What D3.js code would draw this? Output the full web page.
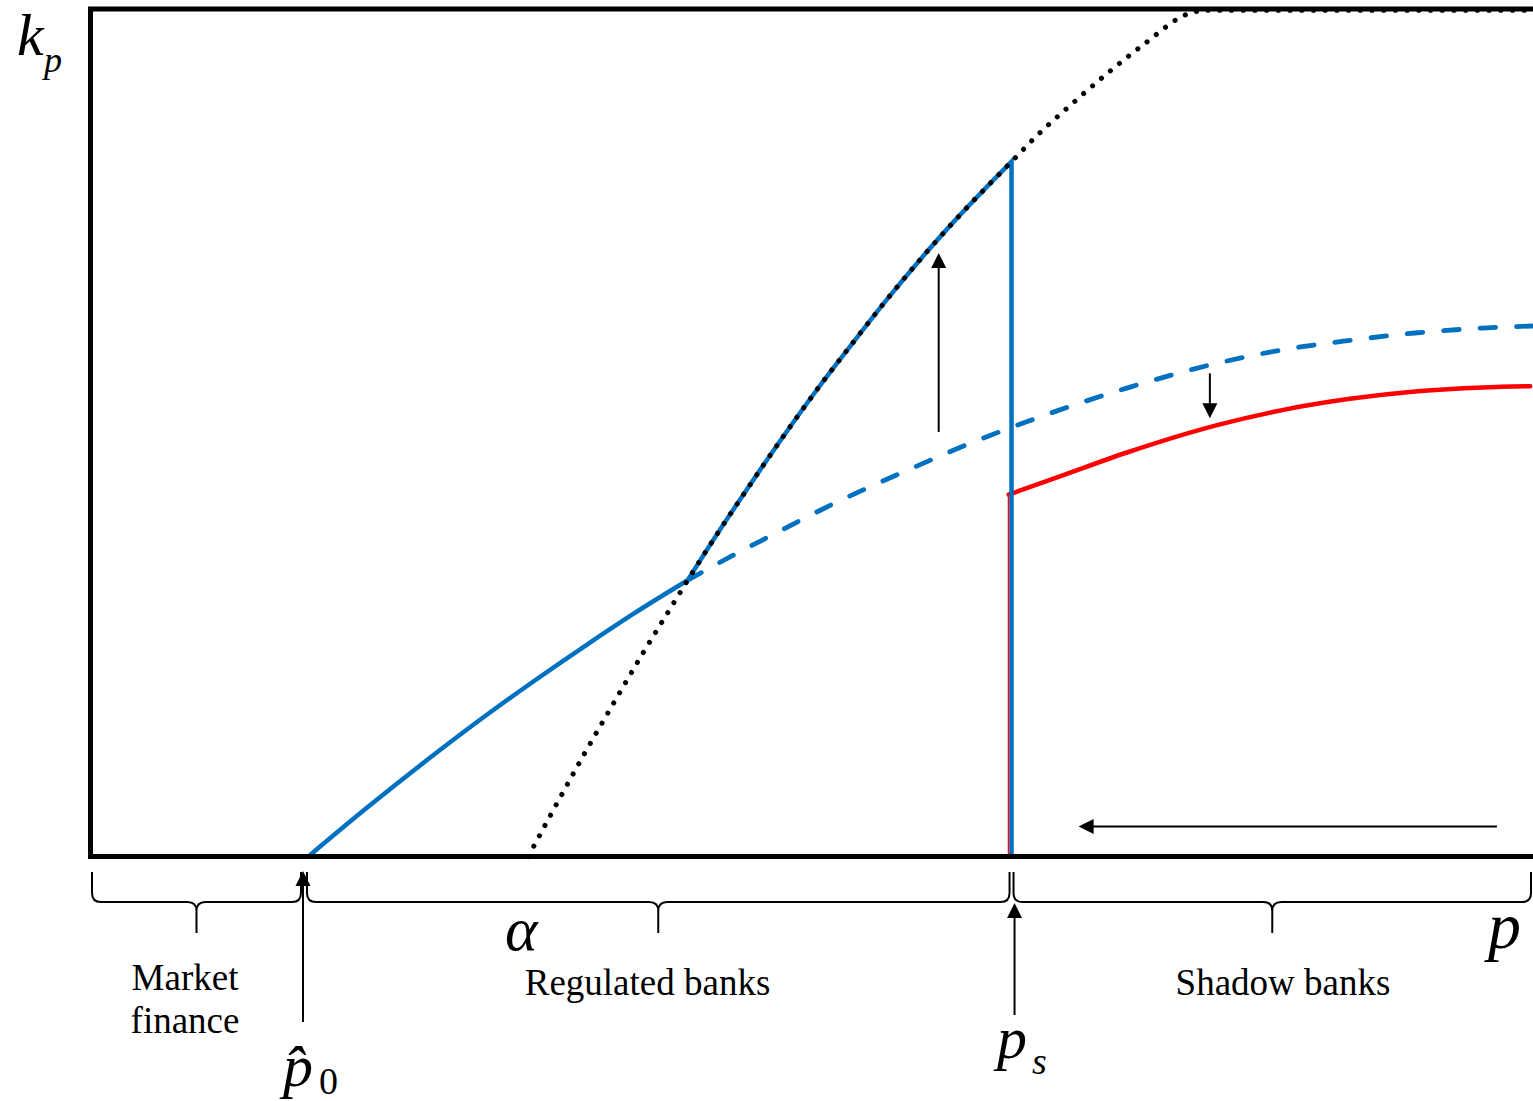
<!DOCTYPE html>
<html>
<head>
<meta charset="utf-8">
<script src="https://cdn.jsdelivr.net/npm/d3@7"></script>
<style>
  html, body { margin: 0; padding: 0; background: #fff; }
  svg { display: block; }
</style>
</head>
<body>
<div id="chart"></div>
<script>
// Thresholds on the p axis
const pHat0 = 14.8;
const pS = 63.85;

// Capital requirement curve (dotted), capped at the top of the frame
const capP = [30.35, 31.9, 34.2, 36.2, 38.3, 40.1, 41.4, 43.5, 45.7, 48.0, 50.5, 52.8, 55.2, 57.6, 59.9, 63.85, 65.7, 68.1, 70.7, 73.0, 76.2, 77.4, 100];
const capK = [0, 4.9, 12.0, 17.9, 24.0, 29.0, 32.6, 38.2, 43.8, 49.5, 55.4, 60.5, 65.7, 70.6, 75.0, 82.0, 85.2, 88.9, 92.7, 95.8, 99.5, 99.85, 99.85];

// Regulated-bank capital below the kink (solid blue)
const regLowP = [15.1, 19.2, 23.8, 27.5, 30.7, 34.5, 37.6, 41.4];
const regLowK = [0, 5.8, 12.0, 16.75, 20.65, 25.1, 28.6, 32.6];

// Regulated-bank capital continued past the kink (dashed blue)
const regDashP = [41.4, 44.5, 47.1, 51.6, 56.4, 61.2, 66.2, 71.9, 78.1, 82.7, 87.3, 92.0, 96.5, 100];
const regDashK = [32.6, 35.5, 37.8, 41.7, 45.4, 48.9, 52.1, 55.3, 58.2, 59.8, 60.9, 61.8, 62.35, 62.6];

// Shadow-bank capital (red)
const shadowP = [63.65, 67.2, 71.9, 78.1, 82.7, 87.3, 92.0, 96.5, 99.8];
const shadowK = [42.7, 44.85, 47.7, 50.9, 52.7, 54.0, 54.9, 55.35, 55.5];

// Shift arrows: [p0, k0, p1, k1]
const shiftArrows = [
  [58.8, 50.1, 58.8, 71.2],   // capital requirement rises
  [77.6, 57.0, 77.6, 51.7],   // shadow capital drops
  [97.5, 3.55, 68.5, 3.55]    // threshold moves left
];

// Region labels under the braces
const regionLines = [["Market", "finance"], ["Regulated banks"], ["Shadow banks"]];

const W = 1533, H = 1101;
const svg = d3.select("#chart").append("svg")
  .attr("width", W).attr("height", H)
  .attr("viewBox", `0 0 ${W} ${H}`);

const x = d3.scaleLinear().domain([0, 100]).range([90.5, 1533]);
const y = d3.scaleLinear().domain([0, 100]).range([856.5, 9]);

const line = d3.line().x(d => x(d[0])).y(d => y(d[1])).curve(d3.curveMonotoneX);
const zip = (a, b) => a.map((v, i) => [v, b[i]]);

const BLUE = "#0070C0", RED = "#FF0000";
const serif = "'Liberation Serif', 'Times New Roman', serif";

const plot = svg.append("g");

// Dashed blue continuation
plot.append("path")
  .attr("d", line(zip(regDashP, regDashK)))
  .attr("fill", "none").attr("stroke", BLUE).attr("stroke-width", 4.8)
  .attr("stroke-linecap", "round").attr("stroke-dasharray", "15.5 21");

// Red: thin vertical at the threshold, then the shadow-bank curve
plot.append("line")
  .attr("x1", x(pS) - 3).attr("x2", x(pS) - 3)
  .attr("y1", y(0)).attr("y2", y(shadowK[0]))
  .attr("stroke", RED).attr("stroke-width", 1.6);
plot.append("path")
  .attr("d", line(zip(shadowP, shadowK)))
  .attr("fill", "none").attr("stroke", RED).attr("stroke-width", 4.5)
  .attr("stroke-linecap", "round");

// Solid blue below the kink
plot.append("path")
  .attr("d", line(zip(regLowP, regLowK)))
  .attr("fill", "none").attr("stroke", BLUE).attr("stroke-width", 4.5);

// Solid blue along the requirement curve up to p_s, then down to zero
const upper = zip(capP, capK).filter(d => d[0] >= 41.4 && d[0] <= pS);
plot.append("path")
  .attr("d", line(upper) + `L${x(pS)},${y(0)}`)
  .attr("fill", "none").attr("stroke", BLUE).attr("stroke-width", 4.5)
  .attr("stroke-linejoin", "miter");

// Dotted requirement curve
plot.append("path")
  .attr("d", line(zip(capP, capK)))
  .attr("fill", "none").attr("stroke", "#000").attr("stroke-width", 5.1)
  .attr("stroke-linecap", "round").attr("stroke-dasharray", "0.01 11.7");

// Arrow helper: shaft plus filled triangular head
function arrow(g, x1, y1, x2, y2, len = 15, half = 7.5, w = 2) {
  const dx = x2 - x1, dy = y2 - y1, L = Math.hypot(dx, dy);
  const ux = dx / L, uy = dy / L;
  const bx = x2 - ux * len, by = y2 - uy * len;
  g.append("line").attr("x1", x1).attr("y1", y1).attr("x2", bx + ux).attr("y2", by + uy)
    .attr("stroke", "#000").attr("stroke-width", w);
  g.append("path")
    .attr("d", `M${x2},${y2} L${bx - uy * half},${by + ux * half} L${bx + uy * half},${by - ux * half} Z`)
    .attr("fill", "#000");
}

const ann = svg.append("g");
shiftArrows.forEach(a => arrow(ann, x(a[0]), y(a[1]), x(a[2]), y(a[3])));

// Frame (left, top, bottom)
svg.append("path")
  .attr("d", `M${W + 10},${y(100)} H${x(0)} V${y(0)} H${W + 10}`)
  .attr("fill", "none").attr("stroke", "#000").attr("stroke-width", 5)
  .attr("stroke-linejoin", "miter");

// Curly braces under the axis
function brace(x1, x2, yTop = 872, yH = 902, yTip = 933, r = 9) {
  const xc = (x1 + x2) / 2;
  return `M${x1},${yTop} L${x1},${yH - r} Q${x1},${yH} ${x1 + r},${yH} L${xc - r},${yH} Q${xc},${yH} ${xc},${yH + r} L${xc},${yTip}` +
         `M${xc},${yH + r} Q${xc},${yH} ${xc + r},${yH} L${x2 - r},${yH} Q${x2},${yH} ${x2},${yH - r} L${x2},${yTop}`;
}
const braceSpans = [
  [x(0) + 1.5, x(pHat0) - 3],
  [x(pHat0) + 3, x(pS) - 2],
  [x(pS) + 2, x(100) - 2]
];
braceSpans.forEach(s => {
  svg.append("path").attr("d", brace(s[0], s[1]))
    .attr("fill", "none").attr("stroke", "#000").attr("stroke-width", 2);
});

// Threshold arrows pointing up at the axis
arrow(svg, x(pHat0) - 1, 1022, x(pHat0) - 1, 871);
arrow(svg, x(pS) + 3, 1015, x(pS) + 3, 903);

// Region labels
const labelX = [185, 647.5, 1283];
const labelY = [[990, 1033], [995], [995]];
regionLines.forEach((lines, i) => {
  lines.forEach((t, j) => {
    svg.append("text").attr("x", labelX[i]).attr("y", labelY[i][j])
      .attr("text-anchor", "middle")
      .attr("font-family", serif).attr("font-size", 37).attr("fill", "#000")
      .text(t);
  });
});

// Math symbols, each built as one text element from pieces
// piece: [string, size, italic, dx, dy]
function mathText(px, py, pieces) {
  const t = svg.append("text").attr("x", px).attr("y", py)
    .attr("font-family", serif).attr("fill", "#000");
  pieces.forEach(p => {
    t.append("tspan").attr("font-size", p[1])
      .attr("font-style", p[2] ? "italic" : "normal")
      .attr("dx", p[3] || 0).attr("dy", p[4] || 0)
      .text(p[0]);
  });
}
mathText(17, 55, [["k", 60, true], ["p", 36, true, 0.4, 17]]);
mathText(1488, 948, [["p", 66, true]]);
mathText(505, 950, [["α", 62, true]]);
mathText(283, 1086, [["p\u0302", 60, true], ["0", 38, false, 6, 8]]);
mathText(997, 1058, [["p", 60, true], ["s", 38, true, 5, 16]]);
</script>
</body>
</html>
